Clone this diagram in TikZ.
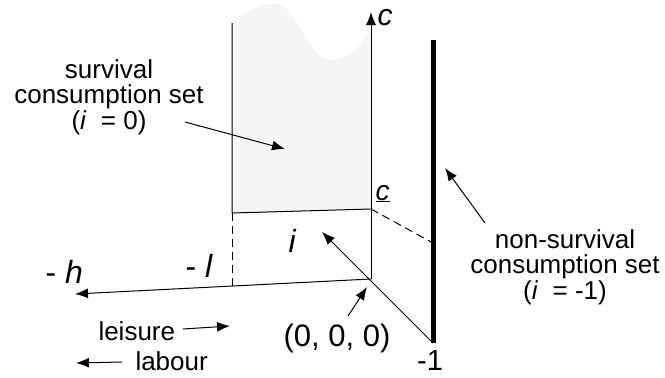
\documentclass[tikz,border=0pt]{standalone}
\usepackage{fontspec}
\setmainfont{Liberation Sans}
\usetikzlibrary{arrows.meta}
\begin{document}
\begin{tikzpicture}[x=1pt, y=-1pt, line width=1pt, line join=round, >={Latex[length=13pt,width=10pt]},
	txt/.style={font=\fontsize{26}{25.5}\selectfont, align=center, inner sep=0pt},
	axlbl/.style={font=\fontsize{31}{31}\selectfont, inner sep=0pt},
	dsh/.style={dash pattern=on 8pt off 5pt}]
	\useasboundingbox (0,0) rectangle (665,378);
	
	% cac diem chinh
	\coordinate (O) at (371,279);
	\coordinate (ctop) at (371,12);
	\coordinate (htip) at (75,294);
	\coordinate (m1) at (433,343);
	\coordinate (itip) at (322,232);
	\coordinate (cmin) at (371,209);
	\coordinate (lc) at (232,213);
	\coordinate (ltop) at (232,23);
	\coordinate (lh) at (232,286);
	\coordinate (ntop) at (433,40);
	\coordinate (nc) at (433,243);
	
	% tap tieu dung song sot (to mau)
	\fill[black!4] (lc) -- (ltop) .. controls (250,8) and (266,2) .. (278,4)
		.. controls (296,7) and (310,60) .. (330,60)
		.. controls (350,60) and (366,42) .. (371,25) -- (cmin) -- cycle;
	
	% cac truc
	\draw[->] (O) -- (ctop);
	\draw[->] (O) -- (htip);
	\draw[->] (m1) -- (itip);
	\draw (ltop) -- (lc) -- (cmin);
	\draw[dsh] (lc) -- (lh);
	\draw[dsh] (cmin) -- (nc);
	\draw[line width=5pt] (ntop) -- (m1);
	
	% nhan truc
	\node[axlbl, anchor=base west, font=\fontsize{30}{30}\selectfont] (clbl) at (377,25) {\textit{c}};
	\node[axlbl, anchor=base west, font=\fontsize{28}{28}\selectfont] (cbar) at (375,200) {\underline{\textit{c}}};
	\node[axlbl, anchor=base west, font=\fontsize{32}{32}\selectfont] (ilbl) at (288,252) {\textit{i}};
	\node[axlbl, anchor=base west, font=\fontsize{32}{32}\selectfont] (hlbl) at (45,283) {- \textit{h}};
	\node[axlbl, anchor=base west, font=\fontsize{32}{32}\selectfont] (llbl) at (185,277) {- \textit{l}};
	\node[axlbl] (orig) at (337,338) {(0, 0, 0)};
	\node[axlbl, font=\fontsize{29}{29}\selectfont] (mone) at (430,361) {-1};
	
	% chu thich
	\node[txt] (surv) at (109,97) {survival\\consumption set\\(\textit{i}\ \ = 0)};
	\node[txt] (nonsurv) at (565,267) {non-survival\\consumption set\\(\textit{i}\ \ = -1)};
	\node[txt, anchor=base west] (leis) at (98,340) {leisure};
	\node[txt, anchor=base west] (lab) at (135,370) {labour};
	
	% mui ten chu thich
	\coordinate (s0) at (185,122);
	\coordinate (s1) at (285,149);
	\coordinate (n0) at (485,223);
	\coordinate (n1) at (445,168);
	\coordinate (o0) at (348,316);
	\coordinate (o1) at (367,287);
	\coordinate (le0) at (183,329);
	\coordinate (le1) at (230,326);
	\coordinate (la0) at (122,362);
	\coordinate (la1) at (76,363);
	\draw[->] (s0) -- (s1);
	\draw[->] (n0) -- (n1);
	\draw[->] (o0) -- (o1);
	\draw[->] (le0) -- (le1);
	\draw[->] (la0) -- (la1);
\end{tikzpicture}
\end{document}
